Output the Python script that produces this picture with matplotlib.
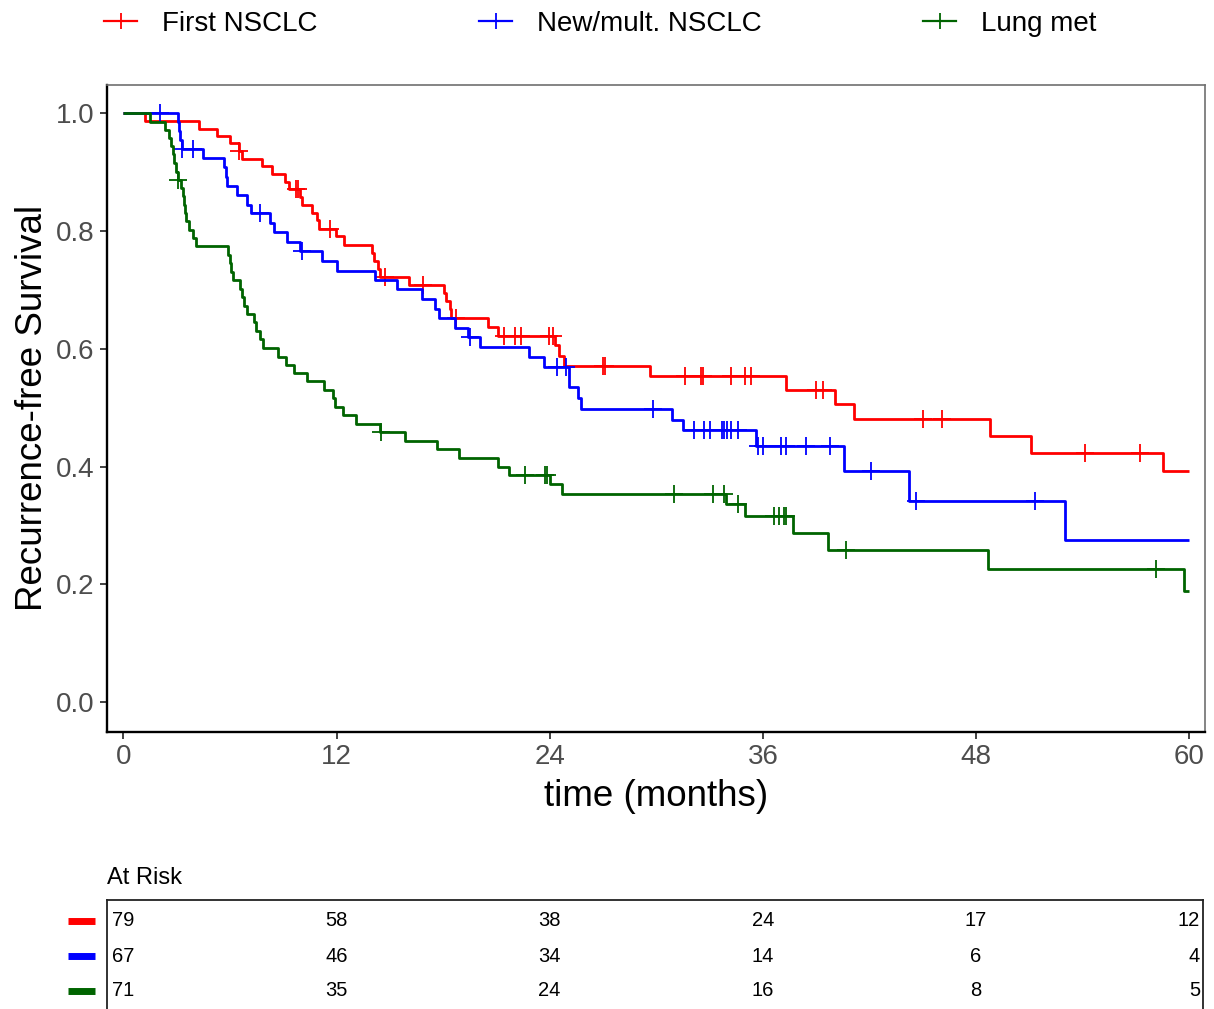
import numpy as np
import matplotlib
matplotlib.use("Agg")
import matplotlib.pyplot as plt
from matplotlib.lines import Line2D
import matplotlib.transforms as mtransforms

plt.rcParams['font.family'] = ['Liberation Sans', 'DejaVu Sans']

# ---------------- data ----------------
group_names = ["First NSCLC", "New/mult. NSCLC", "Lung met"]
group_colors = ["#FF0000", "#0000FF", "#006400"]

red_times = [0, 1.24, 4.24, 5.27, 5.98, 6.49, 6.69, 7.8, 8.37, 9.12, 9.3, 9.96, 10.05,
             10.62, 10.9, 10.99, 11.99, 12.4, 14.0, 14.09, 14.31, 14.42, 16.06, 18.03,
             18.16, 18.4, 18.45, 20.52, 21.07, 24.3, 24.5, 24.8, 29.66, 37.3, 40.07,
             41.1, 48.8, 51.1, 58.5]
red_surv = [1.0, 0.987, 0.974, 0.962, 0.949, 0.936, 0.923, 0.910, 0.897, 0.884, 0.871,
            0.858, 0.845, 0.831, 0.818, 0.804, 0.791, 0.777, 0.763, 0.749, 0.735, 0.722,
            0.709, 0.695, 0.681, 0.667, 0.652, 0.637, 0.622, 0.606, 0.588, 0.571, 0.554,
            0.531, 0.506, 0.481, 0.452, 0.424, 0.392]
red_censor = [6.49, 9.7, 9.85, 11.65, 14.75, 16.86, 18.7, 21.4, 22.06, 22.4, 23.97, 24.2,
              27.0, 27.1, 31.6, 32.5, 32.6, 34.2, 35.0, 35.3, 39.0, 39.4, 45.0, 46.1,
              54.1, 57.2]

blue_times = [0, 3.06, 3.12, 3.18, 3.3, 4.48, 5.65, 5.78, 5.83, 6.4, 6.96, 7.2, 8.27, 8.5,
              9.21, 9.96, 11.18, 12.02, 14.18, 15.4, 16.81, 17.56, 17.75, 18.68, 19.4,
              20.1, 22.86, 23.65, 25.06, 25.1, 25.6, 25.77, 30.87, 31.5, 35.6, 40.54,
              44.2, 53.0]
blue_surv = [1.0, 0.985, 0.970, 0.955, 0.940, 0.924, 0.908, 0.892, 0.876, 0.861, 0.845,
             0.830, 0.814, 0.799, 0.782, 0.766, 0.749, 0.733, 0.717, 0.701, 0.684, 0.668,
             0.652, 0.636, 0.620, 0.604, 0.587, 0.570, 0.554, 0.536, 0.517, 0.498, 0.480,
             0.462, 0.435, 0.392, 0.342, 0.275]
blue_censor = [2.05, 3.3, 3.92, 7.71, 10.05, 19.5, 24.4, 24.9, 29.8, 32.1, 32.7, 33.0,
               33.7, 33.8, 34.0, 34.2, 34.6, 35.7, 36.0, 37.0, 37.3, 38.4, 39.8, 42.1,
               44.6, 51.3]

green_times = [0, 1.52, 2.36, 2.55, 2.70, 2.78, 2.83, 2.98, 3.06, 3.25, 3.34, 3.40, 3.46,
               3.55, 3.68, 3.92, 4.11, 5.89, 5.99, 6.08, 6.17, 6.55, 6.68, 6.77, 6.96,
               7.33, 7.49, 7.71, 7.86, 8.71, 9.17, 9.62, 10.34, 11.27, 11.80, 11.89,
               12.36, 13.11, 14.46, 15.87, 17.65, 18.9, 21.06, 21.7, 24.03, 24.7, 33.9,
               35.0, 37.7, 39.66, 48.64, 59.67]
green_surv = [1.0, 0.986, 0.972, 0.958, 0.944, 0.930, 0.915, 0.901, 0.887, 0.873, 0.859,
              0.845, 0.831, 0.817, 0.802, 0.788, 0.774, 0.759, 0.745, 0.731, 0.717, 0.702,
              0.688, 0.673, 0.659, 0.645, 0.630, 0.616, 0.601, 0.587, 0.573, 0.559, 0.545,
              0.531, 0.516, 0.501, 0.487, 0.472, 0.458, 0.444, 0.430, 0.414, 0.400, 0.385,
              0.370, 0.353, 0.336, 0.316, 0.287, 0.258, 0.227, 0.189]
green_censor = [3.1, 14.5, 22.6, 23.75, 23.85, 31.0, 33.2, 33.8, 34.6, 36.6, 36.9, 37.2,
                37.3, 40.7, 58.1]

risk_times = [0, 12, 24, 36, 48, 60]
risk_red = [79, 58, 38, 24, 17, 12]
risk_blue = [67, 46, 34, 14, 6, 4]
risk_green = [71, 35, 24, 16, 8, 5]

x_ticks = [0, 12, 24, 36, 48, 60]
y_ticks = [0.0, 0.2, 0.4, 0.6, 0.8, 1.0]
max_time = 60

# ---------------- figure ----------------
W, H = 1214, 1009
fig = plt.figure(figsize=(W / 100, H / 100), dpi=100)

def px_axes(left, top, right, bottom):
    return [left / W, 1 - bottom / H, (right - left) / W, (bottom - top) / H]

ax = fig.add_axes(px_axes(107, 85, 1205, 731.7))

series = [
    (red_times, red_surv, red_censor),
    (blue_times, blue_surv, blue_censor),
    (green_times, green_surv, green_censor),
]
for (t, s, c), col in zip(series, group_colors):
    t = np.asarray(t, float)
    s = np.asarray(s, float)
    tt = np.append(t, max_time)
    ss = np.append(s, s[-1])
    ax.step(tt, ss, where='post', color=col, lw=2.0, solid_capstyle='butt')
    c = np.asarray(c, float)
    idx = np.searchsorted(t, c, side='right') - 1
    ax.plot(c, s[idx], linestyle='none', marker='+', markersize=13.5,
            markeredgewidth=1.3, color=col)

ax.set_xlim(-0.92, 60.88)
ax.set_ylim(-0.05, 1.048)
ax.set_xticks(x_ticks)
ax.set_xticklabels([str(v) for v in x_ticks])
ax.set_yticks(y_ticks)
ax.set_yticklabels([f"{v:.1f}" for v in y_ticks])
ax.tick_params(axis='both', labelsize=20, labelcolor='#4D4D4D', color='#333333',
               length=5, width=1.3, pad=4)
for side in ['left', 'bottom']:
    ax.spines[side].set_color('black')
    ax.spines[side].set_linewidth(1.7)
for side in ['top', 'right']:
    ax.spines[side].set_color('#707070')
    ax.spines[side].set_linewidth(1.2)
ax.set_xlabel("time (months)", fontsize=26.5, labelpad=6)
ax.set_ylabel("Recurrence-free Survival", fontsize=26.5, labelpad=4)

# ---------------- legend ----------------
handles = [Line2D([], [], color=c, lw=1.6, marker='+', markersize=12,
                  markeredgewidth=1.3) for c in group_colors]
fig.legend(handles, group_names, loc='center left',
           bbox_to_anchor=(104 / W, 1 - 24 / H), ncol=3, frameon=False,
           fontsize=20, handlelength=1.2, handletextpad=0.9, columnspacing=5.8,
           borderpad=0, borderaxespad=0)

# ---------------- at-risk table ----------------
tax = fig.add_axes(px_axes(107, 900, 1203, 1025))
tax.set_xlim(-0.92, 60.78)
tax.set_ylim(0, 1)
tax.set_xticks([])
tax.set_yticks([])
for side in ['left', 'top', 'right']:
    tax.spines[side].set_color('#222222')
    tax.spines[side].set_linewidth(1.3)
tax.spines['bottom'].set_visible(False)

fig.text(107 / W, 1 - 878 / H, "At Risk", fontsize=17, ha='left', va='center')

row_px = [921, 956, 990.5]
risk_rows = [risk_red, risk_blue, risk_green]
blend = mtransforms.blended_transform_factory(tax.transData, fig.transFigure)
for row, vals, col, ypx in zip(range(3), risk_rows, group_colors, row_px):
    yf = 1 - ypx / H
    for i, (tv, v) in enumerate(zip(risk_times, vals)):
        if i == 0:
            fig.text(112 / W, yf, str(v), fontsize=14.5, ha='left', va='center')
        elif i == len(risk_times) - 1:
            fig.text(1200 / W, yf, str(v), fontsize=14.5, ha='right', va='center')
        else:
            tax.text(tv, yf, str(v), fontsize=14.5, ha='center', va='center',
                     transform=blend, clip_on=False)
    fig.add_artist(Line2D([68 / W, 95 / W], [yf, yf], color=col, lw=5,
                          solid_capstyle='butt', transform=fig.transFigure))

fig.savefig("out.png", dpi=100)
